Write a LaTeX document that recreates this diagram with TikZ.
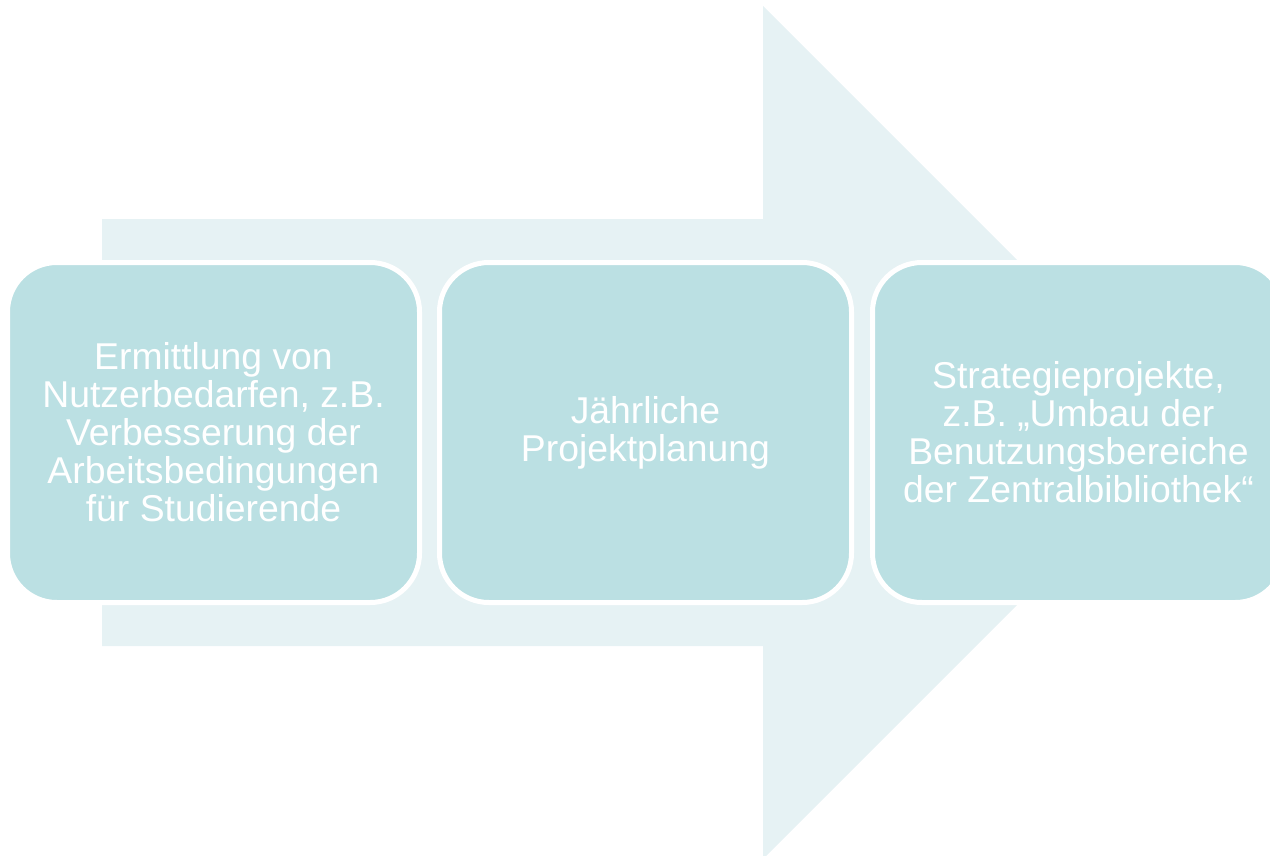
\documentclass[tikz,border=0pt]{standalone}
\usepackage{fontspec}
\setmainfont{Liberation Sans}
\usepackage{xcolor}
\definecolor{arrowbg}{HTML}{E6F2F4}
\definecolor{boxfill}{HTML}{BBE0E3}
\usetikzlibrary{positioning}

\begin{document}
\begin{tikzpicture}[x=0.75pt, y=-0.75pt,
		stepbox/.style={rectangle, rounded corners=37pt, fill=boxfill, draw=white,
			line width=3.75pt, minimum width=309pt, minimum height=255pt,
			text=white, align=center, inner sep=0pt,
			font=\fontsize{28}{28.5}\selectfont}]
					\useasboundingbox (0,0) rectangle (1270,856);

					% background arrow
					\fill[arrowbg]
						(102,219) -- (763,219) -- (763,6) -- (1189.5,432.5)
						-- (763,859) -- (763,646) -- (102,646) -- cycle;

					\draw
						(213.5,432.5) node[stepbox] (step1) {Ermittlung von\\Nutzerbedarfen, z.B.\\Verbesserung der\\Arbeitsbedingungen\\für Studierende}
						(645.5,432.5) node[stepbox] (step2) {Jährliche\\Projektplanung}
						(1078.5,432.5) node[stepbox] (step3) {Strategieprojekte,\\z.B. „Umbau der\\Benutzungsbereiche\\der Zentralbibliothek“};
				\end{tikzpicture}
\end{document}
